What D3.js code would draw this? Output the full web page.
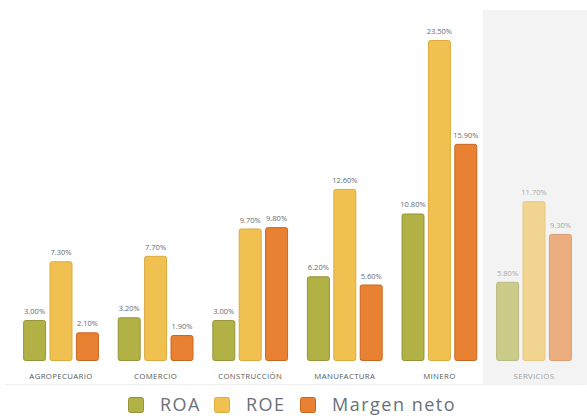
<!DOCTYPE html>
<html>
<head>
<meta charset="utf-8">
<script src="https://cdn.jsdelivr.net/npm/d3@7"></script>
<style>
  body { margin: 0; background: #fff; }
  svg { display: block; font-family: "Open Sans", sans-serif; }
</style>
</head>
<body>
<svg id="chart" width="587" height="419"></svg>
<script>
    // chart data
    var categories = ['AGROPECUARIO', 'COMERCIO', 'CONSTRUCCIÓN', 'MANUFACTURA', 'MINERO', 'SERVICIOS'];
    var seriesNames = ['ROA', 'ROE', 'Margen neto'];
    var roa = [3.0, 3.2, 3.0, 6.2, 10.8, 5.8];
    var roe = [7.3, 7.7, 9.7, 12.6, 23.5, 11.7];
    var margen = [2.1, 1.9, 9.8, 5.6, 15.9, 9.3];
    var highlighted = 'SERVICIOS';

    var fills = ['#b1b146', '#f0c050', '#e88132'];
    var strokes = ['#94943a', '#dcab3c', '#c9661e'];
    var seriesValues = [roa, roe, margen];

    var svg = d3.select('#chart');
    var baseline = 361;

    var x = d3.scaleBand()
        .domain(categories)
        .range([13.7, 581.3])
        .paddingInner(0)
        .paddingOuter(0);

    var xs = d3.scaleBand()
        .domain(seriesNames)
        .range([0, 80])
        .paddingInner(0.13)
        .paddingOuter(0.08);

    var y = d3.scaleLinear()
        .domain([0, 23.5])
        .range([baseline, 40]);

    // highlighted band
    svg.append('rect')
        .attr('x', x(highlighted) - 4)
        .attr('y', 10)
        .attr('width', 587 - x(highlighted) + 4)
        .attr('height', 375)
        .attr('fill', '#f3f3f3');

    // faint bottom line
    svg.append('line')
        .attr('x1', 5).attr('x2', 582)
        .attr('y1', 384.5).attr('y2', 384.5)
        .attr('stroke', '#eeeeee')
        .attr('stroke-width', 1);

    var groups = svg.selectAll('g.cat')
        .data(categories)
        .enter().append('g')
        .attr('class', 'cat')
        .attr('transform', function(d) { return 'translate(' + (x(d) + x.bandwidth() / 2 - 40) + ',0)'; });

    groups.each(function(cat, ci) {
        var g = d3.select(this);
        var faded = cat === highlighted;
        seriesNames.forEach(function(s, si) {
            var v = seriesValues[si][ci];
            g.append('rect')
                .attr('x', xs(s) + 0.5)
                .attr('y', y(v) + 0.5)
                .attr('width', xs.bandwidth() - 1)
                .attr('height', baseline - y(v) - 1)
                .attr('rx', 2).attr('ry', 2)
                .attr('fill', fills[si])
                .attr('stroke', strokes[si])
                .attr('stroke-width', 1)
                .attr('opacity', faded ? 0.6 : 1);
            g.append('text')
                .attr('x', xs(s) + xs.bandwidth() / 2)
                .attr('y', y(v) - 6)
                .attr('text-anchor', 'middle')
                .style('font-size', '7.5px')
                .attr('fill', faded ? '#a8a8a8' : '#666a70')
                .text(v.toFixed(2) + '%');
        });
        g.append('text')
            .attr('x', 40)
            .attr('y', 379)
            .attr('text-anchor', 'middle')
            .style('font-size', '7.8px')
            .style('letter-spacing', '0.35px')
            .attr('fill', faded ? '#a0a0a0' : '#555a60')
            .text(cat);
    });

    // legend
    var legendX = [128, 214, 300];
    var legend = svg.append('g').attr('class', 'legend');
    seriesNames.forEach(function(s, i) {
        legend.append('rect')
            .attr('x', legendX[i] + 0.5)
            .attr('y', 397.5)
            .attr('width', 15)
            .attr('height', 15)
            .attr('rx', 2)
            .attr('fill', fills[i])
            .attr('stroke', strokes[i]);
        legend.append('text')
            .attr('x', legendX[i] + 32)
            .attr('y', 411)
            .style('font-size', '18px')
            .style('letter-spacing', '1.5px')
            .attr('fill', '#6b7079')
            .text(s);
    });
</script>
</body>
</html>
